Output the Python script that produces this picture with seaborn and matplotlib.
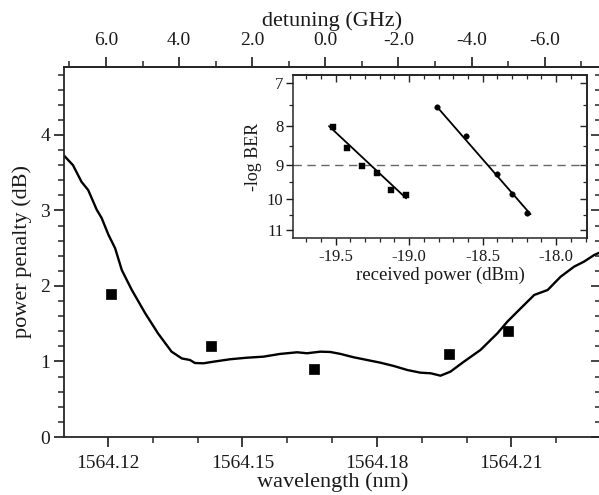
import numpy as np
import pandas as pd
import matplotlib
matplotlib.use("Agg")
import matplotlib.pyplot as plt
import seaborn as sns
from matplotlib.ticker import FixedLocator, MultipleLocator, FuncFormatter, NullFormatter

# ---------------- data ----------------
curve_wl = [1564.1100, 1564.1122, 1564.1141, 1564.1156, 1564.1175, 1564.1186, 1564.1201,
            1564.1216, 1564.1231, 1564.1253, 1564.1283, 1564.1312, 1564.1342, 1564.1365,
            1564.1383, 1564.1394, 1564.1413, 1564.1435, 1564.1473, 1564.1510, 1564.1547,
            1564.1584, 1564.1622, 1564.1644, 1564.1674, 1564.1696, 1564.1719, 1564.1748,
            1564.1778, 1564.1808, 1564.1838, 1564.1868, 1564.1897, 1564.1920, 1564.1942,
            1564.1964, 1564.1994, 1564.2031, 1564.2069, 1564.2091, 1564.2121, 1564.2151,
            1564.2181, 1564.2210, 1564.2240, 1564.2262, 1564.2285, 1564.2300]
curve_pp = [3.74, 3.60, 3.38, 3.27, 3.01, 2.90, 2.68,
            2.50, 2.21, 1.95, 1.64, 1.37, 1.13, 1.04,
            1.02, 0.98, 0.976, 0.997, 1.03, 1.05, 1.064,
            1.10, 1.122, 1.109, 1.13, 1.126, 1.10, 1.056,
            1.02, 0.984, 0.94, 0.887, 0.852, 0.844, 0.812,
            0.865, 0.997, 1.152, 1.374, 1.527, 1.705, 1.881,
            1.947, 2.123, 2.256, 2.322, 2.411, 2.45]

meas_wl = [1564.1207, 1564.1430, 1564.1659, 1564.1961, 1564.2093]
meas_pp = [1.89, 1.20, 0.90, 1.10, 1.40]

ber1_p = [-19.52, -19.42, -19.32, -19.22, -19.12, -19.02]
ber1_v = [8.03, 8.55, 9.04, 9.23, 9.73, 9.89]
fit1_p = [-19.545, -19.02]
fit1_v = [8.0, 9.98]

ber2_p = [-18.81, -18.61, -18.40, -18.30, -18.20]
ber2_v = [7.55, 8.24, 9.26, 9.86, 10.45]
fit2_p = [-18.808, -18.174]
fit2_v = [7.55, 10.48]

main_xticks = [1564.12, 1564.15, 1564.18, 1564.21]
main_yticks = [0, 1, 2, 3, 4]
det_ticks = [6.0, 4.0, 2.0, 0.0, -2.0, -4.0, -6.0]
inset_xticks = [-19.5, -19.0, -18.5, -18.0]
inset_yticks = [7, 8, 9, 10, 11]
inset_yminor = [7.5, 8.5, 9.5, 10.5]

LAMBDA0 = 1564.1685
GHZ_PER_NM = 122.6

# ---------------- style ----------------
sns.set_style("ticks")
plt.rcParams['font.family'] = ['Liberation Serif', 'DejaVu Serif']
plt.rcParams['axes.linewidth'] = 1.3
plt.rcParams['axes.unicode_minus'] = False

TXT = '#1a1a1a'

fig = plt.figure(figsize=(5.99, 4.95), dpi=100)
ax = fig.add_axes([64/599, 58/495, 537/599, 370/495])

df_curve = pd.DataFrame({"wl": curve_wl, "pp": curve_pp})
df_meas = pd.DataFrame({"wl": meas_wl, "pp": meas_pp})
sns.lineplot(data=df_curve, x="wl", y="pp", ax=ax, color="black", lw=1.7, sort=False)
sns.scatterplot(data=df_meas, x="wl", y="pp", ax=ax, color="black", marker="s",
                s=42, edgecolor="black", linewidth=0.5, zorder=5)

ax.set_xlim(1564.1102, 1564.2300)
ax.set_ylim(0, 4.9)
ax.set_xticks(main_xticks)
ax.set_xticklabels([f"{v:.2f}" for v in main_xticks])
ax.xaxis.set_minor_locator(MultipleLocator(0.01))
ax.set_yticks(main_yticks)
ax.yaxis.set_minor_locator(MultipleLocator(0.2))
ax.tick_params(axis='both', which='major', direction='out', length=7, width=1.2,
               labelsize=14, colors=TXT)
ax.tick_params(axis='both', which='minor', direction='out', length=4, width=1.1)
ax.tick_params(axis='x', which='major', pad=6)
ax.tick_params(axis='y', which='major', pad=3)
ax.set_xlabel("wavelength (nm)", fontsize=16, labelpad=0, color=TXT)
ax.set_ylabel("power penalty (dB)", fontsize=16, labelpad=6, color=TXT)
for s in ax.spines.values():
    s.set_visible(True)
    s.set_linewidth(1.3)

# top axis: detuning
def wl2det(x):
    return -(np.asarray(x) - LAMBDA0) * GHZ_PER_NM

def det2wl(d):
    return LAMBDA0 - np.asarray(d) / GHZ_PER_NM

top = ax.secondary_xaxis('top', functions=(wl2det, det2wl))
top.set_xticks(det_ticks)
top.xaxis.set_major_formatter(FuncFormatter(lambda v, p: f"{v:.1f}"))
top.xaxis.set_minor_locator(MultipleLocator(1.0))
top.tick_params(which='major', direction='out', length=7, width=1.2, labelsize=14, pad=6,
                colors=TXT)
top.tick_params(which='minor', direction='out', length=4, width=1.1)
top.set_xlabel("detuning (GHz)", fontsize=16, labelpad=4, color=TXT)

# right mirror ticks pointing inward
right = ax.secondary_yaxis('right')
right.set_yticks(main_yticks)
right.yaxis.set_minor_locator(MultipleLocator(0.2))
right.tick_params(which='major', direction='in', length=7, width=1.2, labelright=False)
right.tick_params(which='minor', direction='in', length=4, width=1.1)
right.set_yticklabels([])

# ---------------- inset ----------------
ins = fig.add_axes([293/599, 257/495, 294/599, 163/495])
ins.set_yscale('log')
df1 = pd.DataFrame({"p": ber1_p, "v": ber1_v})
df2 = pd.DataFrame({"p": ber2_p, "v": ber2_v})
ins.axhline(9, color='#666666', lw=1.0, ls=(0, (6, 4)), zorder=1)
sns.lineplot(x=fit1_p, y=fit1_v, ax=ins, color='black', lw=1.3)
sns.lineplot(x=fit2_p, y=fit2_v, ax=ins, color='black', lw=1.3)
sns.scatterplot(data=df1, x="p", y="v", ax=ins, marker='s', s=16, color='black',
                edgecolor='black', linewidth=0.3, zorder=5)
sns.scatterplot(data=df2, x="p", y="v", ax=ins, marker='o', s=16, color='black',
                edgecolor='black', linewidth=0.3, zorder=5)

ins.set_xlim(-19.79, -17.79)
ins.set_ylim(11.27, 6.84)
ins.set_xticks(inset_xticks)
ins.set_xticklabels([f"{v:.1f}" for v in inset_xticks])
ins.xaxis.set_minor_locator(MultipleLocator(0.1))
ins.yaxis.set_major_locator(FixedLocator(inset_yticks))
ins.yaxis.set_major_formatter(FuncFormatter(lambda v, p: f"{v:g}"))
ins.yaxis.set_minor_locator(FixedLocator(inset_yminor))
ins.yaxis.set_minor_formatter(NullFormatter())
ins.tick_params(which='major', direction='out', length=5, width=1.0, labelsize=12,
                colors=TXT)
ins.tick_params(which='minor', direction='out', length=3, width=0.9)
ins.tick_params(axis='y', which='major', pad=2)
ins.tick_params(axis='x', which='major', pad=3)
ins.set_xlabel("received power (dBm)", fontsize=13.5, labelpad=1, color=TXT)
ins.set_ylabel("-log BER", fontsize=13, labelpad=3, color=TXT)
for s in ins.spines.values():
    s.set_linewidth(1.1)

itop = ins.secondary_xaxis('top')
itop.set_xticks(inset_xticks)
itop.xaxis.set_minor_locator(MultipleLocator(0.1))
itop.tick_params(which='major', direction='in', length=5, width=1.0, labeltop=False)
itop.tick_params(which='minor', direction='in', length=3, width=0.9)
itop.set_xticklabels([])

iright = ins.secondary_yaxis('right')
iright.yaxis.set_major_locator(FixedLocator(inset_yticks))
iright.yaxis.set_minor_locator(FixedLocator(inset_yminor))
iright.yaxis.set_minor_formatter(NullFormatter())
iright.tick_params(which='major', direction='in', length=5, width=1.0, labelright=False)
iright.tick_params(which='minor', direction='in', length=3, width=0.9)
iright.set_yticklabels([])

fig.savefig("out.png", dpi=100)
